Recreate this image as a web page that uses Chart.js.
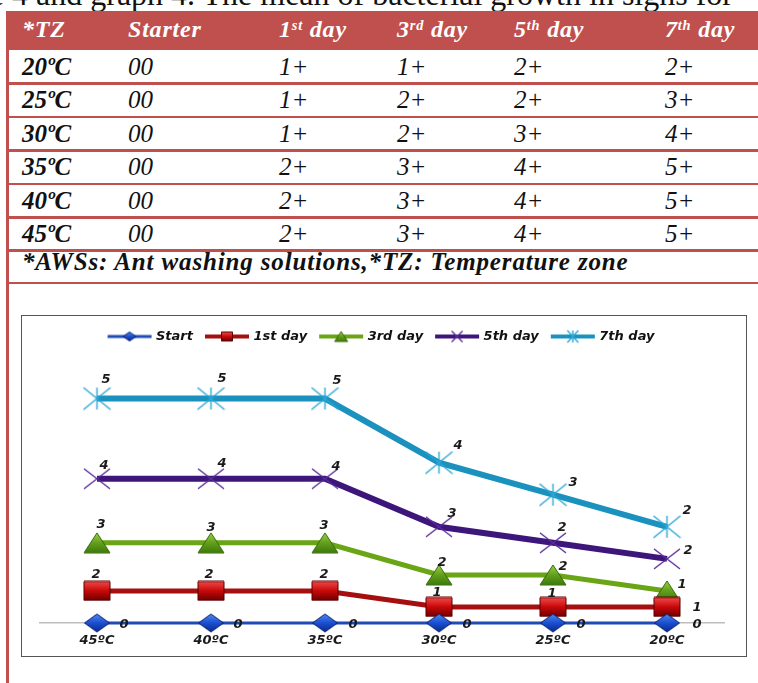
<!DOCTYPE html>
<html>
<head>
<meta charset="utf-8">
<script src="https://cdn.jsdelivr.net/npm/chart.js@4.4.1/dist/chart.umd.min.js"></script>
<style>
  html, body { margin: 0; padding: 0; }
  body {
    width: 758px; height: 683px; position: relative; overflow: hidden;
    background: #fff; color: #111;
    font-family: "Liberation Serif", "Times New Roman", serif;
  }
  .intro { position: absolute; right: 25px; top: -22px; font-size: 32px; line-height: 32px; white-space: nowrap; }
  .red { position: absolute; background: #C0504D; }
  .cell { position: absolute; white-space: nowrap; font-style: italic; font-size: 25px; line-height: 25px; }
  .cell.b { font-weight: bold; }
  .cell.h { color: #fff; font-weight: bold; font-size: 24px; line-height: 24px; letter-spacing: 0.8px; }
  .cell.foot { letter-spacing: 0.85px; }
  .cell sup { font-size: 0.6em; vertical-align: baseline; position: relative; top: -0.5em; }
  #chartBox {
    position: absolute; left: 21px; top: 315px; width: 726px; height: 342px;
    box-sizing: border-box; border: 1.5px solid #555;
  }
  #chart { position: absolute; left: 0; top: 0; }
</style>
</head>
<body>
<div class="intro">Table 4 and graph 4. The mean of bacterial growth in signs for</div>
<div id="table"></div>
<div id="chartBox"><canvas id="chart" width="723" height="339"></canvas></div>

<script>
// ── Data ──
const tempZones = ["20ºC", "25ºC", "30ºC", "35ºC", "40ºC", "45ºC"];
const starter = [0, 0, 0, 0, 0, 0];
const day1 = [1, 1, 1, 2, 2, 2];
const day3 = [1, 2, 2, 3, 3, 3];
const day5 = [2, 2, 3, 4, 4, 4];
const day7 = [2, 3, 4, 5, 5, 5];

const headerNames = ["*TZ", "Starter", "1st day", "3rd day", "5th day", "7th day"];
const seriesNames = ["Start", "1st day", "3rd day", "5th day", "7th day"];
const footNote = "*AWSs: Ant washing solutions,*TZ: Temperature zone";

// ── Table ──
const colX = [22, 128, 279, 397, 514, 665];
const lineTops = [82, 115.5, 149, 182.5, 216, 249, 281.5];
const table = document.getElementById("table");

function addRed(left, top, width, height) {
  const d = document.createElement("div");
  d.className = "red";
  Object.assign(d.style, { left: left + "px", top: top + "px", width: width + "px", height: height + "px" });
  table.appendChild(d);
}

function addCell(html, cls, x, baseline, size) {
  const d = document.createElement("div");
  d.className = "cell " + cls;
  d.innerHTML = html;
  d.style.left = x + "px";
  d.style.top = (baseline - 0.8375 * size) + "px";
  table.appendChild(d);
}

addRed(6, 11, 3, 672);
addRed(6, 11, 752, 39);
lineTops.forEach((t) => addRed(9, t, 749, 2.7));

headerNames.forEach((name, i) => {
  const html = name.replace(/^(\d)(st|nd|rd|th)/, "$1<sup>$2</sup>");
  addCell(html, "h", colX[i], 37.5, 24);
});

const rows = tempZones.map((t, i) => [t, String(starter[i]).padStart(2, "0"), day1[i] + "+", day3[i] + "+", day5[i] + "+", day7[i] + "+"]);
rows.forEach((r, ri) => {
  const base = lineTops[ri] - 7.5;
  r.forEach((txt, ci) => addCell(txt, ci === 0 ? "b" : "", colX[ci], base, 25));
});
addCell(footNote, "b foot", 22, 270, 25);

// ── Markers ──
function makeCanvas(w, h) {
  const c = document.createElement("canvas");
  c.width = w; c.height = h;
  return c;
}

function shapePath(ctx, kind, w, h, cx, cy) {
  ctx.beginPath();
  if (kind === "diamond") {
    ctx.moveTo(cx, cy - h / 2); ctx.lineTo(cx + w / 2, cy); ctx.lineTo(cx, cy + h / 2); ctx.lineTo(cx - w / 2, cy);
    ctx.closePath();
  } else if (kind === "square") {
    ctx.rect(cx - w / 2, cy - h / 2, w, h);
  } else if (kind === "triangle") {
    ctx.moveTo(cx, cy - h / 2); ctx.lineTo(cx + w / 2, cy + h / 2); ctx.lineTo(cx - w / 2, cy + h / 2);
    ctx.closePath();
  } else if (kind === "x" || kind === "star") {
    ctx.moveTo(cx - w / 2, cy - h / 2); ctx.lineTo(cx + w / 2, cy + h / 2);
    ctx.moveTo(cx + w / 2, cy - h / 2); ctx.lineTo(cx - w / 2, cy + h / 2);
    if (kind === "star") { ctx.moveTo(cx, cy - h / 2); ctx.lineTo(cx, cy + h / 2); }
  }
}

function paintMarker(ctx, m, w, h, cx, cy) {
  shapePath(ctx, m.kind, w, h, cx, cy);
  if (m.kind === "x" || m.kind === "star") {
    ctx.strokeStyle = m.stroke; ctx.lineWidth = 1.4; ctx.stroke();
    return;
  }
  const g = ctx.createLinearGradient(0, cy - h / 2, 0, cy + h / 2);
  m.fill.forEach((c, i) => g.addColorStop(i / (m.fill.length - 1), c));
  ctx.fillStyle = g; ctx.fill();
  ctx.strokeStyle = m.stroke; ctx.lineWidth = 1; ctx.stroke();
}

const looks = [
  { line: "#1f4bb5", width: 3, kind: "diamond", size: [25, 18], small: [13, 9], fill: ["#4d8af0", "#1a4fd0", "#0a2a90"], stroke: "#0a1f70" },
  { line: "#a50f0f", width: 5, kind: "square", size: [26, 19], small: [11, 9], fill: ["#f04a4a", "#c80808", "#6e0000"], stroke: "#5a0000" },
  { line: "#6aa516", width: 5, kind: "triangle", size: [26, 20], small: [13, 10], fill: ["#9ad04a", "#62a01c", "#3f7a0c"], stroke: "#3a6a0a" },
  { line: "#3c167a", width: 6, kind: "x", size: [26, 20], small: [11, 11], stroke: "#5b2d9b" },
  { line: "#1b92be", width: 6, kind: "star", size: [27, 22], small: [11, 12], stroke: "#2ba7d6" },
];

const pointImgs = looks.map((m) => {
  const [w, h] = m.size;
  const c = makeCanvas(w + 2, h + 2);
  paintMarker(c.getContext("2d"), m, w, h, (w + 2) / 2, (h + 2) / 2);
  return c;
});

const legendImgs = looks.map((m) => {
  const c = makeCanvas(46, 16);
  const ctx = c.getContext("2d");
  ctx.strokeStyle = m.line; ctx.lineWidth = m.width === 3 ? 3 : 4;
  ctx.beginPath(); ctx.moveTo(1, 8); ctx.lineTo(45, 8); ctx.stroke();
  paintMarker(ctx, m, m.small[0], m.small[1], 23, 8);
  return c;
});

// ── Chart ──
const chartLabels = tempZones.slice().reverse();
const seriesData = [starter, day1, day3, day5, day7].map((a) => a.slice().reverse());

const labelOffsets = [
  [[27, 2], [27, 2], [28, 2], [28, 2], [28, 2], [30, 2]],
  [[-1, -16], [-2, -16], [-1, -16], [-2, -14], [-1, -13], [30, 1]],
  [[4, -18], [0, -15], [-1, -17], [3, -12], [10, -8], [15, -6]],
  [[7, -13], [11, -15], [11, -12], [13, -13], [9, -15], [21, -8]],
  [[9, -19], [11, -20], [12, -18], [19, -17], [20, -12], [20, -16]],
];

const chartFont = { family: "'DejaVu Sans', Verdana, sans-serif", size: 13, weight: "bold", style: "italic" };

const valueLabels = {
  id: "valueLabels",
  afterDatasetsDraw(chart) {
    const ctx = chart.ctx;
    ctx.save();
    ctx.font = "italic bold 13px 'DejaVu Sans'";
    ctx.fillStyle = "#1a1a1a";
    ctx.textAlign = "center";
    ctx.textBaseline = "middle";
    chart.data.datasets.forEach((ds, i) => {
      chart.getDatasetMeta(i).data.forEach((pt, j) => {
        const [dx, dy] = labelOffsets[i][j];
        ctx.fillText(String(ds.data[j]), pt.x + dx, pt.y + dy);
      });
    });
    ctx.restore();
  },
};

new Chart(document.getElementById("chart"), {
  type: "line",
  data: {
    labels: chartLabels,
    datasets: seriesNames.map((name, i) => ({
      label: name,
      data: seriesData[i],
      borderColor: looks[i].line,
      backgroundColor: looks[i].line,
      borderWidth: looks[i].width,
      fill: false,
      tension: 0,
      clip: false,
      pointStyle: pointImgs[i],
      pointRadius: 6,
      pointHoverRadius: 6,
    })),
  },
  options: {
    responsive: false,
    animation: false,
    layout: { padding: { left: 18, right: 21, top: 0, bottom: 8 } },
    plugins: {
      tooltip: { enabled: false },
      legend: {
        position: "top",
        labels: {
          usePointStyle: true,
          pointStyleWidth: 40,
          padding: 14,
          color: "#111",
          font: chartFont,
          generateLabels: (chart) =>
            Chart.defaults.plugins.legend.labels.generateLabels(chart).map((item, i) => ({ ...item, pointStyle: legendImgs[i] })),
        },
      },
    },
    scales: {
      x: {
        offset: true,
        grid: { display: false, drawTicks: false, offset: true },
        border: { color: "#bdbdbd", width: 1.5 },
        ticks: { color: "#1a1a1a", font: chartFont, padding: 10 },
        afterFit: (scale) => { scale.height = 24; },
      },
      y: {
        display: false,
        stacked: true,
        min: 0,
        max: 16.84,
      },
    },
  },
  plugins: [valueLabels],
});
</script>
</body>
</html>
